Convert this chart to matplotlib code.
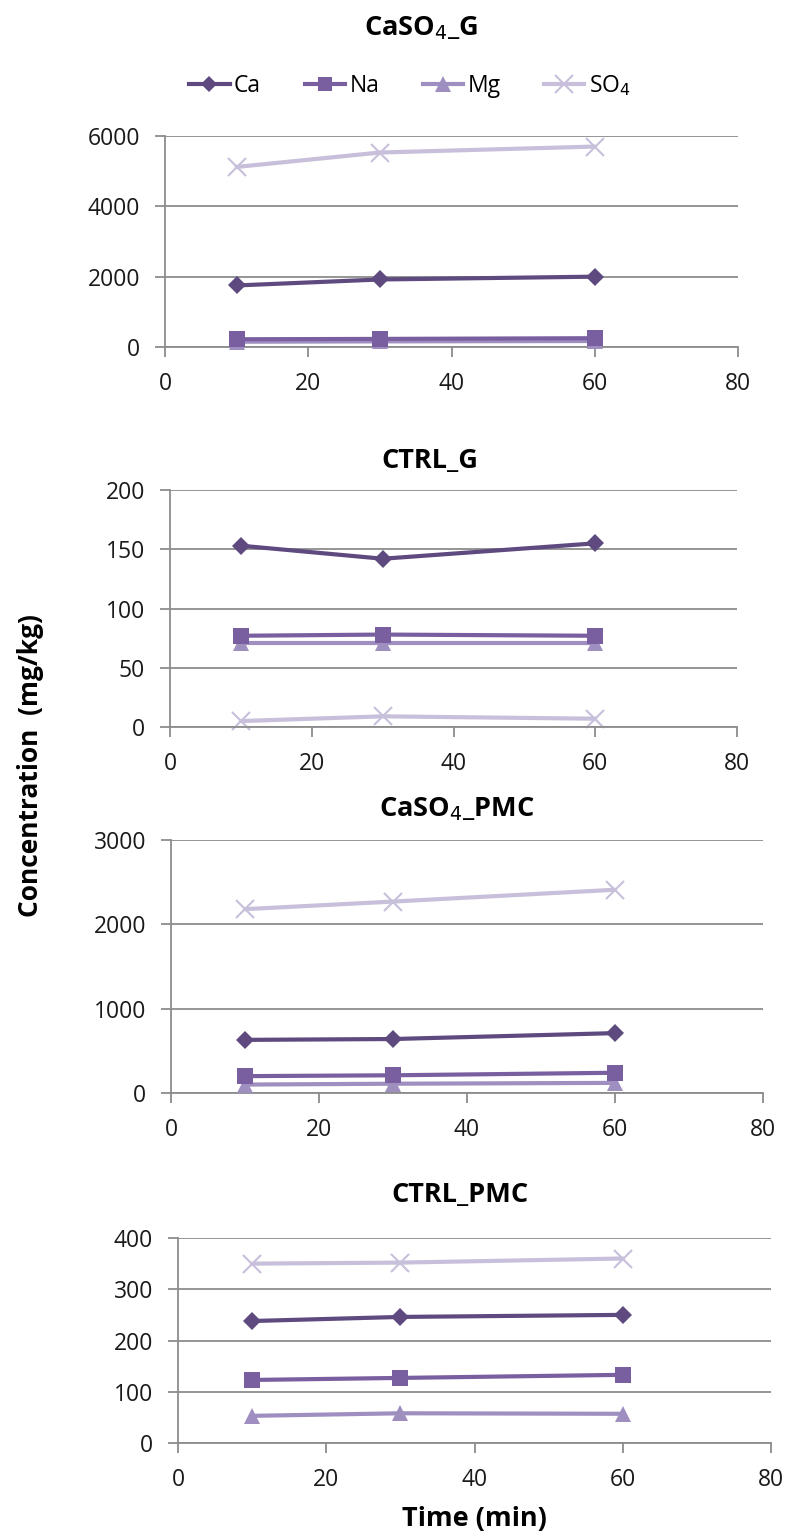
import matplotlib
matplotlib.use("Agg")
import matplotlib.pyplot as plt
from matplotlib.lines import Line2D

plt.rcParams['font.family'] = ['Open Sans', 'DejaVu Sans']

time_min = [10, 30, 60]
series_names = ["Ca", "Na", "Mg", "SO$_4$"]

# panel data
caso4_g = {"Ca": [1750, 1920, 2000], "Na": [220, 230, 250], "Mg": [150, 160, 170], "SO4": [5120, 5530, 5700]}
ctrl_g = {"Ca": [153, 142, 155], "Na": [77, 78, 77], "Mg": [71, 71, 71], "SO4": [5, 9, 7]}
caso4_pmc = {"Ca": [630, 640, 710], "Na": [200, 210, 240], "Mg": [100, 110, 120], "SO4": [2180, 2270, 2410]}
ctrl_pmc = {"Ca": [238, 246, 250], "Na": [123, 127, 133], "Mg": [53, 58, 57], "SO4": [350, 352, 360]}

panel_titles = ["CaSO$_4$_G", "CTRL_G", "CaSO$_4$_PMC", "CTRL_PMC"]
panel_data = [caso4_g, ctrl_g, caso4_pmc, ctrl_pmc]
panel_yticks = [[0, 2000, 4000, 6000], [0, 50, 100, 150, 200], [0, 1000, 2000, 3000], [0, 100, 200, 300, 400]]
xticks = [0, 20, 40, 60, 80]

colors = {"Ca": "#5e4a7e", "Na": "#7a5fa0", "Mg": "#9e8fc0", "SO4": "#c8bfda"}
markers = {"Ca": "D", "Na": "s", "Mg": "^", "SO4": "x"}
msizes = {"Ca": 9, "Na": 11, "Mg": 11.5, "SO4": 13}
keys = ["Ca", "Na", "Mg", "SO4"]

W, H = 787, 1537
fig = plt.figure(figsize=(W / 100, H / 100), dpi=100)

# axes boxes in pixels: left, right, top, bottom
boxes = [(165, 738, 136, 347), (170, 737, 490, 727), (171, 763, 840, 1093), (178, 771, 1238, 1443)]
title_pos = [(421, 28), (430, 461), (457, 809), (460, 1195)]
grid_c = "#8c8c8c"

for i, (l, r, t, b) in enumerate(boxes):
    ax = fig.add_axes([l / W, 1 - b / H, (r - l) / W, (b - t) / H])
    d = panel_data[i]
    for k in keys[::-1]:
        ax.plot(time_min, d[k], color=colors[k], lw=3.0, marker=markers[k], ms=msizes[k],
                mew=1.5 if k == "SO4" else 0, mec=colors[k], mfc=colors[k], zorder=3 if k != "SO4" else 2,
                solid_capstyle='round', clip_on=False)
    yt = panel_yticks[i]
    ax.set_ylim(yt[0], yt[-1])
    ax.set_xlim(0, 80)
    ax.set_yticks(yt)
    ax.set_xticks(xticks)
    ax.tick_params(axis='both', labelsize=16.5, colors=grid_c, labelcolor='#1a1a1a', length=7, width=1.3,
                   direction='out')
    ax.tick_params(axis='y', pad=11)
    ax.tick_params(axis='x', pad=11)
    for s in ["top", "right"]:
        ax.spines[s].set_visible(False)
    for s in ["left", "bottom"]:
        ax.spines[s].set_color(grid_c)
        ax.spines[s].set_linewidth(1.3)
    ax.yaxis.grid(True, color=grid_c, lw=1.3)
    ax.set_axisbelow(True)
    tx, ty = title_pos[i]
    fig.text(tx / W, 1 - ty / H, panel_titles[i], ha='center', va='center', fontsize=19.5, fontweight='bold')

handles = [Line2D([], [], color=colors[k], lw=3.0, marker=markers[k], ms=msizes[k] * 0.95,
                  mew=1.5 if k == "SO4" else 0, mec=colors[k], mfc=colors[k]) for k in keys]
fig.legend(handles, series_names, loc='center', bbox_to_anchor=(410 / W, 1 - 86 / H), ncol=4,
           frameon=False, fontsize=16.5, handlelength=1.75, handletextpad=0.2, columnspacing=1.9)

fig.text(31 / W, 1 - 766 / H, "Concentration  (mg/kg)", rotation=90, ha='center', va='center',
         fontsize=19, fontweight='bold')
fig.text(474 / W, 1 - 1519 / H, "Time (min)", ha='center', va='center', fontsize=19.5, fontweight='bold')

fig.savefig("out.png", dpi=100)
